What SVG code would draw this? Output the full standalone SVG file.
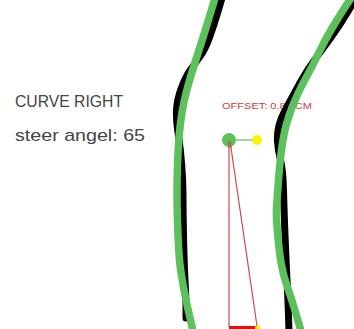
<svg xmlns="http://www.w3.org/2000/svg" width="354" height="329" viewBox="0 0 354 329">
<style>
.lbl{font-family:"Liberation Sans",Arial,sans-serif;fill:#444}
.off{font-family:"Liberation Sans",Arial,sans-serif;fill:#d03a3a;font-size:9.5px}
.blk{fill:none;stroke:#000;stroke-width:7;stroke-linejoin:round;stroke-linecap:round}
.grn{fill:none;stroke:#5cc05c;stroke-width:7.5;stroke-linejoin:round;stroke-linecap:butt}
.red{fill:none;stroke:#c84a4a;stroke-width:1.2}
</style>
<rect width="354" height="329" fill="#fff"/>
<g id="status">
<text class="lbl" x="15" y="107" font-size="16" textLength="108" lengthAdjust="spacingAndGlyphs">CURVE RIGHT</text>
<text class="lbl" x="15" y="141" font-size="17" textLength="130" lengthAdjust="spacingAndGlyphs">steer angel: 65</text>
</g>
<g id="offset">
<text class="off" x="222" y="109" textLength="90" lengthAdjust="spacingAndGlyphs">OFFSET: 0.88 CM</text>
</g>
<g id="guides">
<line class="red" x1="229" y1="141" x2="229" y2="327"/>
<line class="red" x1="230" y1="141" x2="257" y2="326"/>
<line x1="229" y1="327.5" x2="257" y2="327.5" stroke="#e01010" stroke-width="3"/>
<circle cx="257.5" cy="328" r="2.5" fill="#f5e600"/>
<line x1="229" y1="140" x2="257" y2="140" stroke="#5cc05c" stroke-width="1.2"/>
</g>
<g id="left-lane">
<path class="blk" d="M222,-2 L218,11.5 Q214,25 209.5,37.5 Q205,50 199,58 Q193,66 189,72 Q185,78 181,89 Q177,100 176.5,110 Q176,120 178,132.5 Q180,145 181.5,162.5 Q183,180 183,195 Q183,210 183.5,235 Q184,260 185,280 Q186,300 186,309 L186,318"/>
<path class="grn" d="M215,-2 L211,11.5 Q207,25 203,37.5 Q199,50 195,62.5 Q191,75 187.5,87.5 Q184,100 182,112.5 Q180,125 179,137.5 Q178,150 177.5,165 Q177,180 177,195 Q177,210 178,235 Q179,260 181,272.5 Q183,285 185,295 Q187,305 190,318 L193,331"/>
</g>
<g id="right-lane">
<path class="blk" d="M356,-2 L348,11.5 Q340,25 331,37.5 Q322,50 314.5,60 Q307,70 301,81 Q295,92 291.5,98.5 Q288,105 284.5,111.5 Q281,118 279,125.5 Q277,133 277.5,141.5 Q278,150 280.5,160 Q283,170 283.5,190 Q284,210 285,235 Q286,260 287,280 Q288,300 288.5,315.5 L289,331"/>
<path class="grn" d="M351,-2 L344.5,8 Q338,18 331.5,29 Q325,40 319,52.5 Q313,65 307.5,75 Q302,85 298.5,92.5 Q295,100 292,107.5 Q289,115 286.5,124 Q284,133 282,146.5 Q280,160 278.5,180 Q277,200 276.5,207.5 Q276,215 277.5,232.5 Q279,250 281,262.5 Q283,275 287.5,287.5 Q292,300 296.5,315.5 L301,331"/>
</g>
<g id="center">
<circle cx="229" cy="140" r="7" fill="#5cc05c"/>
<circle cx="257" cy="140" r="5" fill="#f5f500"/>
<line class="red" x1="229" y1="141" x2="229" y2="148"/>
<line class="red" x1="230" y1="141" x2="231" y2="148"/>
</g>
</svg>
